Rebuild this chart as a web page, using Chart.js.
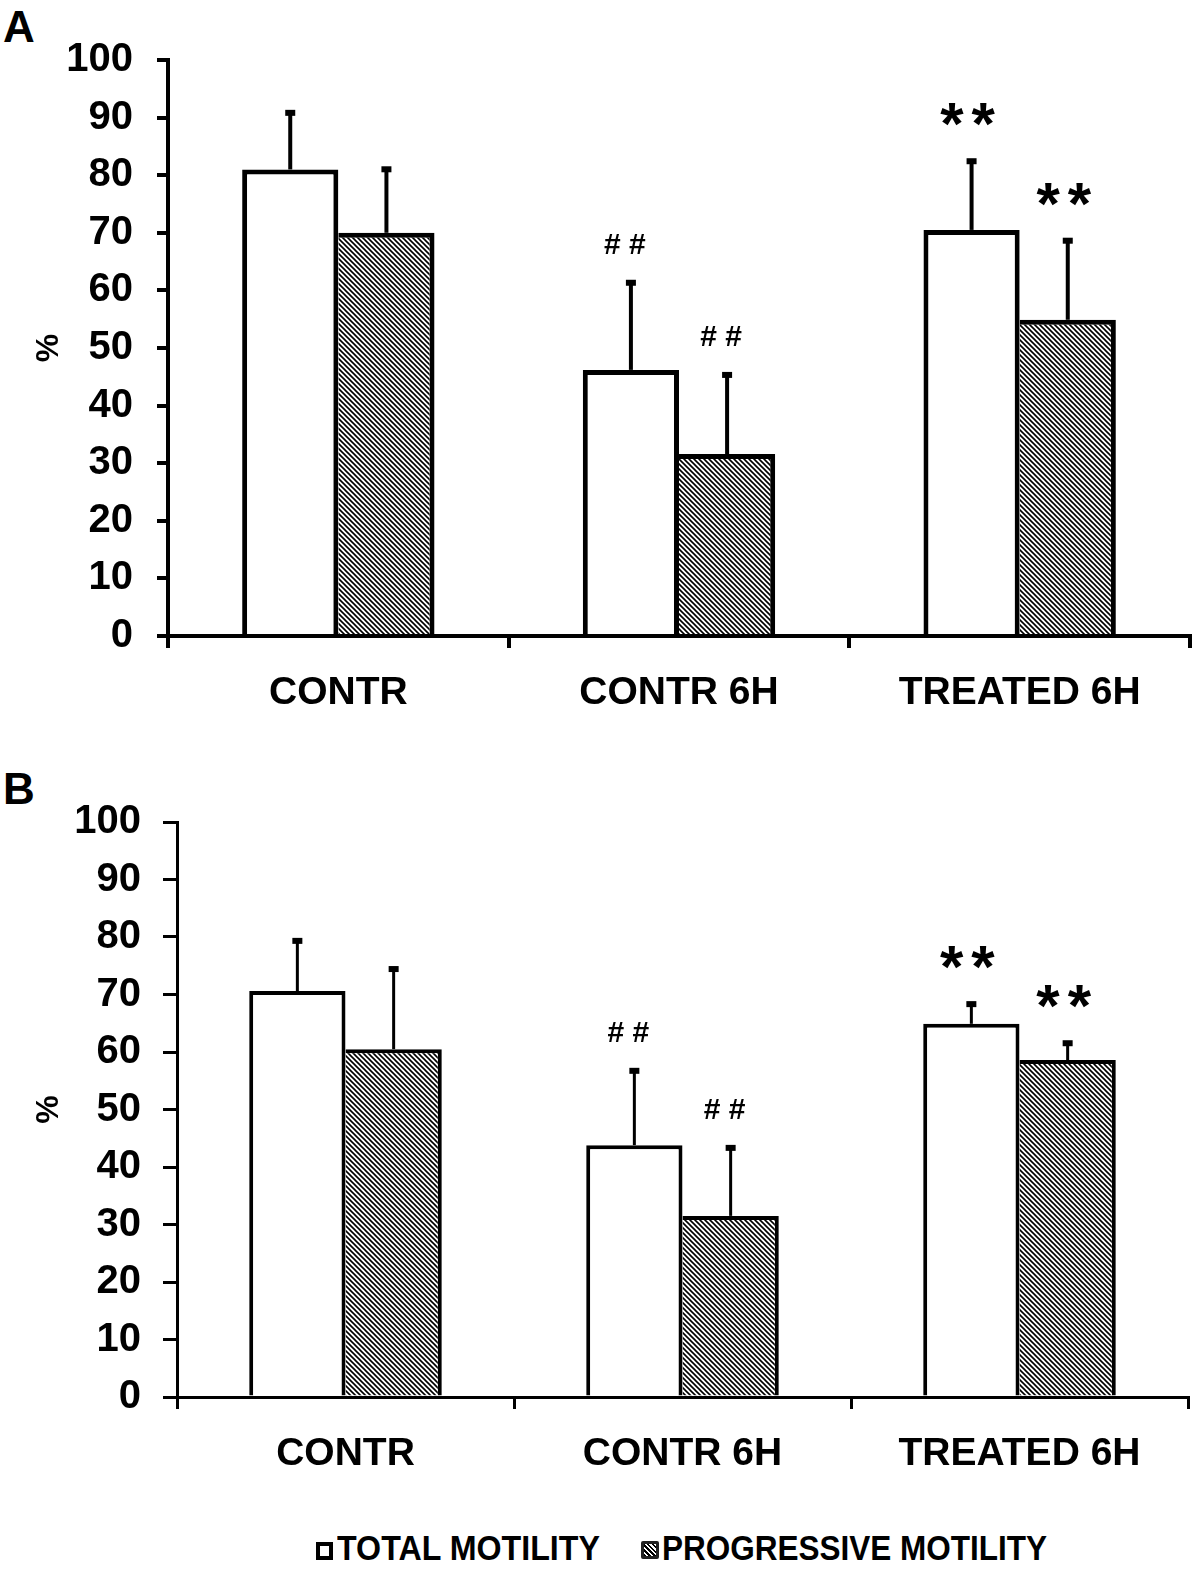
<!DOCTYPE html>
<html>
<head>
<meta charset="utf-8">
<script src="https://cdn.jsdelivr.net/npm/chart.js@4.4.0/dist/chart.umd.min.js"></script>
<style>
  body { margin: 0; background: #fff; }
  #page { position: relative; width: 1200px; height: 1572px; background: #fff; font-family: 'Liberation Sans', Arial, sans-serif; }
  .letter { position: absolute; font: bold 44px 'Liberation Sans', Arial, sans-serif; line-height: 1; }
  .wrap { position: absolute; left: 0; width: 1200px; height: 760px; }
  .leg-text { position: absolute; font: bold 35px 'Liberation Sans', Arial, sans-serif; line-height: 1; white-space: nowrap; transform-origin: left top; }
  .box { position: absolute; width: 9px; height: 10px; border: 4px solid #000; background: #fff; }
  .box.hatch { background: repeating-linear-gradient(45deg, #000 0 1.5px, #fff 1.5px 3.5px); border: 3px solid #222; border-radius: 2px; width: 12px; height: 12px; }
</style>
</head>
<body>
<div id="page">
  <div class="letter" style="left:3px; top:5px;">A</div>
  <div class="letter" style="left:3px; top:767px;">B</div>
  <div class="wrap" style="top:0;"><canvas id="chartA" width="1200" height="760"></canvas></div>
  <div class="wrap" style="top:760px;"><canvas id="chartB" width="1200" height="760"></canvas></div>
  <div class="box" style="left:316px; top:1542px;"></div>
  <div class="leg-text" style="left:337px; top:1530px; transform: scaleX(0.92);">TOTAL MOTILITY</div>
  <div class="box hatch" style="left:641px; top:1541px;"></div>
  <div class="leg-text" style="left:662px; top:1530px; transform: scaleX(0.9);">PROGRESSIVE MOTILITY</div>
</div>
<script>
const categories = ['CONTR', 'CONTR 6H', 'TREATED 6H'];
const seriesNames = ['TOTAL MOTILITY', 'PROGRESSIVE MOTILITY'];

// panel A
const totalA = [81, 46.2, 70.5];
const totalErrA = [10, 15.3, 12.1];
const progA = [70, 31.6, 54.9];
const progErrA = [11.2, 13.9, 13.9];
const totalMarkA = ['', '# #', '**'];
const progMarkA = ['', '# #', '**'];

// panel B
const totalB = [70.6, 43.8, 64.9];
const totalErrB = [8.9, 13.1, 3.6];
const progB = [60.5, 31.5, 58.6];
const progErrB = [14.1, 12, 3.1];
const totalMarkB = ['', '# #', '**'];
const progMarkB = ['', '# #', '**'];

const FONT = "'Liberation Sans', Arial, sans-serif";

function makeHatch() {
  const c = document.createElement('canvas');
  c.width = 5; c.height = 5;
  const g = c.getContext('2d');
  g.fillStyle = '#fff';
  g.fillRect(0, 0, 5, 5);
  g.strokeStyle = '#000';
  g.lineWidth = 1.6;
  g.beginPath();
  g.moveTo(-1, -1); g.lineTo(6, 6);
  g.moveTo(-1, 4); g.lineTo(1, 6);
  g.moveTo(4, -1); g.lineTo(6, 1);
  g.stroke();
  return g.createPattern(c, 'repeat');
}
const hatch = makeHatch();

// error bars (upper only) + significance marks
const errorPlugin = {
  id: 'errs',
  afterDatasetsDraw(chart) {
    const ctx = chart.ctx;
    const y = chart.scales.y;
    const lw = chart.options.errWidth || 4;
    chart.data.datasets.forEach((ds, i) => {
      const meta = chart.getDatasetMeta(i);
      meta.data.forEach((bar, j) => {
        const top = y.getPixelForValue(ds.data[j] + ds.errors[j]);
        ctx.save();
        ctx.strokeStyle = '#000';
        ctx.lineWidth = lw;
        ctx.beginPath();
        ctx.moveTo(bar.x, bar.y);
        ctx.lineTo(bar.x, top);
        ctx.stroke();
        ctx.fillStyle = '#000';
        ctx.fillRect(bar.x - 5, top - 2, 10, 6);
        const mark = ds.marks[j];
        if (mark) {
          ctx.textAlign = 'center';
          ctx.textBaseline = 'alphabetic';
          if (mark === '**') {
            ctx.font = 'bold 60px ' + FONT;
            ctx.letterSpacing = '8px';
            ctx.fillText(mark, bar.x, top - 16);
          } else {
            ctx.font = 'bold 30px ' + FONT;
            ctx.fillText(mark, bar.x - 6, top - 28);
          }
        }
        ctx.restore();
      });
    });
  }
};

function buildChart(id, total, totalErr, totalMark, prog, progErr, progMark, opts) {
  const bw = opts.line + 1;
  return new Chart(document.getElementById(id), {
    type: 'bar',
    data: {
      labels: categories,
      datasets: [
        {
          label: seriesNames[0], data: total, errors: totalErr, marks: totalMark,
          backgroundColor: '#fff', borderColor: '#000',
          borderWidth: { left: bw, top: bw, right: bw, bottom: 0 },
          barPercentage: 1, categoryPercentage: opts.catPct
        },
        {
          label: seriesNames[1], data: prog, errors: progErr, marks: progMark,
          backgroundColor: hatch, borderColor: '#000',
          borderWidth: { left: 0, top: bw, right: bw, bottom: 0 },
          barPercentage: 1, categoryPercentage: opts.catPct
        }
      ]
    },
    options: {
      responsive: false,
      animation: false,
      errWidth: opts.line,
      layout: { padding: { top: opts.top, right: opts.right, left: 0, bottom: 0 } },
      plugins: { legend: { display: false }, tooltip: { enabled: false } },
      scales: {
        x: {
          grid: { display: true, drawOnChartArea: false, drawTicks: true, tickLength: 12, color: '#000', lineWidth: opts.line, offset: true },
          border: { display: true, color: '#000', width: opts.line },
          ticks: { color: '#000', font: { family: FONT, size: 39, weight: 'bold' }, padding: 22, maxRotation: 0 },
          afterFit(s) { s.height = opts.xHeight; }
        },
        y: {
          min: 0, max: 100,
          grid: { display: true, drawOnChartArea: false, drawTicks: true, tickLength: opts.tick, color: '#000', lineWidth: opts.line },
          border: { display: true, color: '#000', width: opts.line },
          ticks: { stepSize: 10, autoSkip: false, color: '#000', font: { family: FONT, size: 40, weight: 'bold' }, padding: opts.tickPad },
          title: { display: true, text: '%', color: '#000', font: { family: FONT, size: 32, weight: 'bold' }, padding: { top: 30 } },
          afterFit(s) { s.width = opts.yWidth; }
        }
      }
    },
    plugins: [errorPlugin]
  });
}

buildChart('chartA', totalA, totalErrA, totalMarkA, progA, progErrA, progMarkA,
  { top: 60, right: 10, xHeight: 124, yWidth: 168, catPct: 192 / 340, line: 4, tick: 11, tickPad: 24 });
buildChart('chartB', totalB, totalErrB, totalMarkB, progB, progErrB, progMarkB,
  { top: 62, right: 12, xHeight: 123, yWidth: 177, catPct: 192 / 336, line: 3, tick: 14, tickPad: 22 });
</script>
</body>
</html>
